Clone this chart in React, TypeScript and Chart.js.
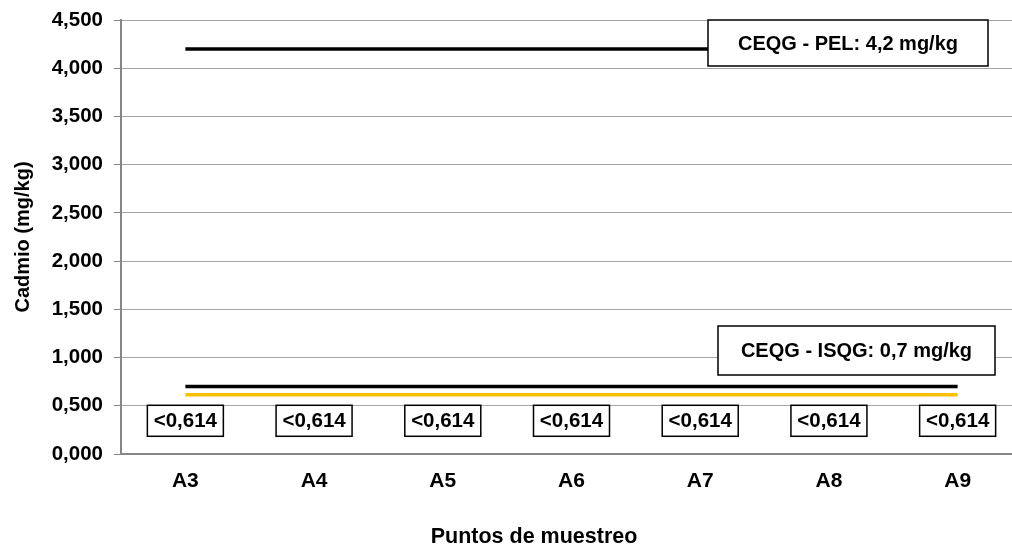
import React, { useEffect, useRef } from "react";
import { Chart, registerables } from "chart.js";

Chart.register(...registerables);

const categories = ["A3", "A4", "A5", "A6", "A7", "A8", "A9"];
const cadmio = [0.614, 0.614, 0.614, 0.614, 0.614, 0.614, 0.614];
const cadmioLabels = ["<0,614", "<0,614", "<0,614", "<0,614", "<0,614", "<0,614", "<0,614"];
const isqg = [0.7, 0.7, 0.7, 0.7, 0.7, 0.7, 0.7];
const pel = [4.2, 4.2, 4.2, 4.2, 4.2, 4.2, 4.2];
const yMin = 0;
const yMax = 4.5;
const yStep = 0.5;
const pelLabel = "CEQG - PEL: 4,2 mg/kg";
const isqgLabel = "CEQG - ISQG: 0,7 mg/kg";
const xTitle = "Puntos de muestreo";
const yTitle = "Cadmio (mg/kg)";

const FONT = '"Liberation Sans", Arial, sans-serif';

const overlayPlugin = {
  id: "overlay",
  afterDatasetsDraw(chart: any) {
    const ctx = chart.ctx as CanvasRenderingContext2D;
    const area = chart.chartArea;
    const meta = chart.getDatasetMeta(2);
    ctx.save();
    // data labels
    ctx.font = `bold 20.5px ${FONT}`;
    ctx.textAlign = "center";
    ctx.textBaseline = "middle";
    meta.data.forEach((pt: any, i: number) => {
      const cx = pt.x;
      const cy = pt.y + 26;
      const w = 76;
      const h = 31;
      ctx.fillStyle = "#fff";
      ctx.fillRect(cx - w / 2, cy - h / 2, w, h);
      ctx.strokeStyle = "#000";
      ctx.lineWidth = 1.5;
      ctx.strokeRect(cx - w / 2, cy - h / 2, w, h);
      ctx.fillStyle = "#000";
      ctx.fillText(cadmioLabels[i], cx, cy + 1);
    });
    // annotation boxes
    const drawBox = (x0: number, y0: number, x1: number, y1: number, text: string) => {
      ctx.fillStyle = "#fff";
      ctx.fillRect(x0, y0, x1 - x0, y1 - y0);
      ctx.strokeStyle = "#000";
      ctx.lineWidth = 1.5;
      ctx.strokeRect(x0, y0, x1 - x0, y1 - y0);
      ctx.fillStyle = "#000";
      ctx.font = `bold 20px ${FONT}`;
      ctx.fillText(text, (x0 + x1) / 2, (y0 + y1) / 2 + 1);
    };
    drawBox(area.left + 587, area.top, area.left + 867, area.top + 46, pelLabel);
    drawBox(area.left + 597, area.top + 306, area.left + 874, area.top + 355, isqgLabel);
    // axis titles
    ctx.font = `bold 21.5px ${FONT}`;
    ctx.fillText(xTitle, 534, 537);
    ctx.save();
    ctx.font = `bold 20px ${FONT}`;
    ctx.translate(23, (area.top + area.bottom) / 2);
    ctx.rotate(-Math.PI / 2);
    ctx.fillText(yTitle, 0, 0);
    ctx.restore();
    ctx.restore();
  },
};

export default function App() {
  const ref = useRef<HTMLCanvasElement | null>(null);
  useEffect(() => {
    if (!ref.current) return;
    const chart = new Chart(ref.current, {
      type: "line",
      data: {
        labels: categories,
        datasets: [
          { label: "PEL", data: pel, borderColor: "#000", borderWidth: 3.5, pointRadius: 0, fill: false },
          { label: "ISQG", data: isqg, borderColor: "#000", borderWidth: 3.5, pointRadius: 0, fill: false },
          { label: "Cadmio", data: cadmio, borderColor: "#FFC000", borderWidth: 3.5, pointRadius: 0, fill: false },
        ],
      },
      options: {
        animation: false,
        responsive: false,
        layout: { padding: { top: 20, right: 8, left: 0, bottom: 0 } },
        plugins: { legend: { display: false }, tooltip: { enabled: false } },
        scales: {
          x: {
            type: "category",
            offset: true,
            grid: { display: false, drawTicks: false },
            border: { display: true, color: "#868686", width: 2 },
            ticks: { color: "#000", font: { family: FONT, size: 21, weight: "bold" }, padding: 15 },
            afterFit: (s: any) => { s.height = 94; },
          },
          y: {
            min: yMin,
            max: yMax,
            ticks: {
              stepSize: yStep,
              color: "#000",
              font: { family: FONT, size: 20.5, weight: "bold" },
              padding: 11,
              callback: (v: any) => Number(v).toFixed(3).replace(".", ","),
            },
            grid: { color: "#a6a6a6", lineWidth: 1, tickLength: 7, tickColor: "#868686" },
            border: { display: true, color: "#868686", width: 2 },
            afterFit: (s: any) => { s.width = 121; s.paddingTop = 0; s.paddingBottom = 0; },
          },
        },
      },
      plugins: [overlayPlugin],
    } as any);
    return () => chart.destroy();
  }, []);
  return (
    <div style={{ position: "fixed", left: 0, top: 0, width: 1012, height: 548, overflow: "hidden", background: "#fff" }}>
      <canvas ref={ref} width={1030} height={548} style={{ width: 1030, height: 548, display: "block" }} />
    </div>
  );
}
